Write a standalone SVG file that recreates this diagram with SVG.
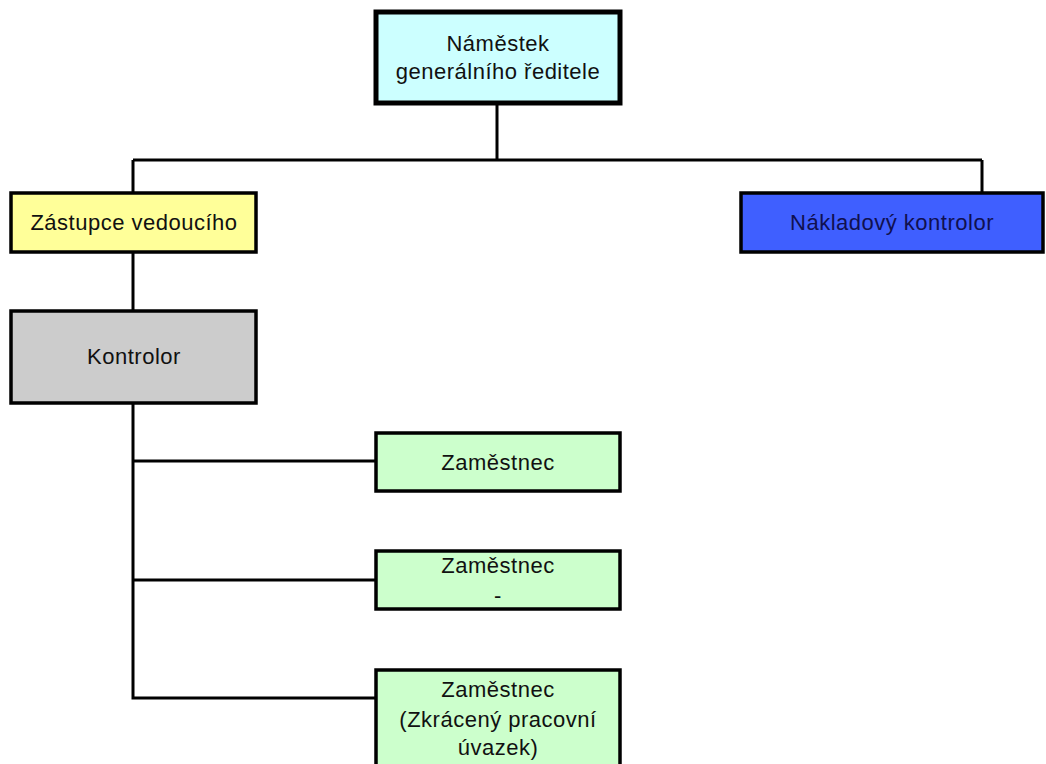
<svg xmlns="http://www.w3.org/2000/svg" width="1046" height="764" viewBox="0 0 1046 764">
  <style>
    .box { stroke: #000; stroke-width: 3.5; }
    .top { stroke-width: 5; }
    .lbl { font-family: "Liberation Sans", Arial, sans-serif; font-size: 22px; letter-spacing: 0.5px; fill: #111; text-anchor: middle; }
    .dark { fill: #101050; }
    .wire { stroke: #000; stroke-width: 3; fill: none; }
  </style>
  <rect width="1046" height="764" fill="#fff"/>

  <!-- reporting lines -->
  <g id="connectors">
    <path class="wire" d="M497 104 V160 M133 160 H982 M133 160 V193 M982 160 V193"/>
    <path class="wire" d="M133 252 V311"/>
    <path class="wire" d="M133 403 V698 H376 M133 461 H376 M133 580 H376"/>
  </g>

  <g id="deputy-director">
    <rect class="box top" x="376" y="12" width="244" height="91" fill="#CCFFFF"/>
    <text class="lbl" x="498" y="51">Náměstek</text>
    <text class="lbl" x="498" y="79">generálního ředitele</text>
  </g>

  <g id="deputy-head">
    <rect class="box" x="11" y="193" width="245" height="59" fill="#FFFF99"/>
    <text class="lbl" x="134" y="230">Zástupce vedoucího</text>
  </g>

  <g id="cost-controller">
    <rect class="box" x="741" y="193" width="302" height="59" fill="#3F5FFF"/>
    <text class="lbl dark" x="892" y="230">Nákladový kontrolor</text>
  </g>

  <g id="controller">
    <rect class="box" x="11" y="311" width="245" height="92" fill="#CCCCCC"/>
    <text class="lbl" x="134" y="364">Kontrolor</text>
  </g>

  <g id="employee-1">
    <rect class="box" x="376" y="433" width="244" height="58" fill="#CCFFCC"/>
    <text class="lbl" x="498" y="470">Zaměstnec</text>
  </g>

  <g id="employee-2">
    <rect class="box" x="376" y="551" width="244" height="58" fill="#CCFFCC"/>
    <text class="lbl" x="498" y="573">Zaměstnec</text>
    <text class="lbl" x="498" y="603">-</text>
  </g>

  <g id="employee-3">
    <rect class="box" x="376" y="670" width="244" height="110" fill="#CCFFCC"/>
    <text class="lbl" x="498" y="697">Zaměstnec</text>
    <text class="lbl" x="498" y="727">(Zkrácený pracovní</text>
    <text class="lbl" x="498" y="755">úvazek)</text>
  </g>
</svg>
